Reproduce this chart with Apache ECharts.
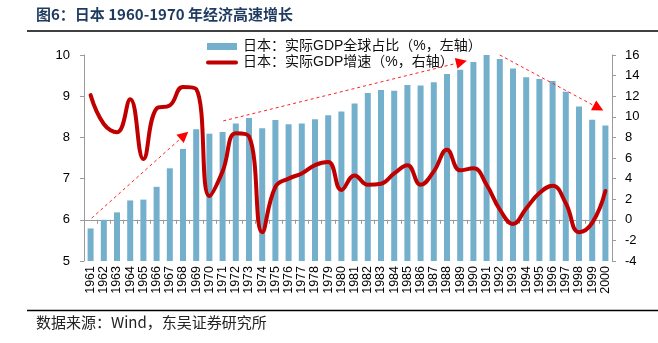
<!DOCTYPE html>
<html>
<head>
<meta charset="utf-8">
<script src="https://cdn.jsdelivr.net/npm/echarts@6/dist/echarts.min.js"></script>
<style>
  html, body { margin: 0; padding: 0; background: #fff; }
  #chart { width: 658px; height: 343px; }
</style>
</head>
<body>
<div id="chart"></div>
<script>
// Years on the category axis
const years = [
  '1961','1962','1963','1964','1965','1966','1967','1968','1969','1970',
  '1971','1972','1973','1974','1975','1976','1977','1978','1979','1980',
  '1981','1982','1983','1984','1985','1986','1987','1988','1989','1990',
  '1991','1992','1993','1994','1995','1996','1997','1998','1999','2000'
];

// Japan's share of world real GDP (%, left axis)
const gdpShare = [
  5.79, 6.00, 6.18, 6.47, 6.49, 6.80, 7.25, 7.72, 8.20, 8.09,
  8.13, 8.34, 8.47, 8.22, 8.42, 8.32, 8.34, 8.44, 8.54, 8.63,
  8.82, 9.08, 9.15, 9.13, 9.27, 9.26, 9.34, 9.54, 9.64, 9.83,
  10.00, 9.90, 9.67, 9.46, 9.42, 9.37, 9.11, 8.75, 8.43, 8.29
];

// Japan's real GDP growth (%, right axis)
const gdpGrowth = [
  12.1, 9.3, 8.5, 11.7, 5.9, 10.8, 11.1, 12.9, 12.7, 2.3,
  4.7, 8.4, 8.1, -1.2, 3.2, 4.0, 4.5, 5.3, 5.6, 2.9,
  4.3, 3.4, 3.5, 4.5, 5.3, 3.4, 4.7, 6.8, 4.8, 5.0,
  3.4, 1.0, -0.4, 1.1, 2.6, 3.3, 1.6, -1.2, -0.3, 2.8
];

// Tick settings for the two value axes
const leftTicks = { min: 5, max: 10, interval: 1 };
const rightTicks = { min: -4, max: 16, interval: 2 };

const seriesNames = ['日本：实际GDP全球占比（%，左轴）', '日本：实际GDP增速（%，右轴）'];

// Trend arrows: [categoryIndex, left-axis value] for start and tip
const trendArrows = [
  [[0.08, 6.04], [7.4, 8.14]],
  [[10.05, 8.40], [28.5, 9.86]],
  [[31.0, 10.0], [38.84, 8.65]]
];

const barColor = '#74b0cc';
const lineColor = '#c00000';
const baseFont = '"Liberation Sans", "Noto Sans CJK SC", sans-serif';

const chart = echarts.init(document.getElementById('chart'), null, { renderer: 'canvas' });

const option = {
  backgroundColor: '#fff',
  animation: false,
  grid: { left: 84, right: 46, top: 55, bottom: 82, containLabel: false },
  xAxis: {
    type: 'category',
    data: years,
    axisLine: { lineStyle: { color: '#9a9a9a', width: 1 } },
    axisTick: { show: true, length: 4, alignWithLabel: false, lineStyle: { color: '#9a9a9a' } },
    axisLabel: {
      rotate: 90, interval: 0, margin: 5,
      fontFamily: baseFont, fontSize: 12.5, color: '#000'
    },
    splitLine: { show: false }
  },
  yAxis: [
    {
      type: 'value',
      min: leftTicks.min, max: leftTicks.max, interval: leftTicks.interval,
      axisLine: { show: true, lineStyle: { color: '#9a9a9a' } },
      axisTick: { show: true, length: 4, lineStyle: { color: '#9a9a9a' } },
      axisLabel: { fontFamily: baseFont, fontSize: 13, color: '#000', margin: 14 },
      splitLine: { show: false }
    },
    {
      type: 'value',
      min: rightTicks.min, max: rightTicks.max, interval: rightTicks.interval,
      axisLine: { show: true, lineStyle: { color: '#9a9a9a' } },
      axisTick: { show: true, length: 4, lineStyle: { color: '#9a9a9a' } },
      axisLabel: { fontFamily: baseFont, fontSize: 13, color: '#000', margin: 13 },
      splitLine: { show: false }
    }
  ],
  series: [
    {
      name: seriesNames[0],
      type: 'bar',
      yAxisIndex: 0,
      data: gdpShare,
      barWidth: 6,
      itemStyle: { color: barColor },
      z: 2
    },
    {
      name: seriesNames[1],
      type: 'line',
      yAxisIndex: 1,
      data: gdpGrowth,
      smooth: 0.45,
      symbol: 'none',
      showSymbol: false,
      lineStyle: { color: lineColor, width: 4, cap: 'round', join: 'round' },
      itemStyle: { color: lineColor },
      z: 3
    }
  ]
};

chart.setOption(option);

// Pixel position for a (possibly fractional) category index on the left axis
function toPixel(idx, val) {
  const lo = Math.floor(idx);
  const a = chart.convertToPixel({ xAxisIndex: 0, yAxisIndex: 0 }, [lo, val]);
  const b = chart.convertToPixel({ xAxisIndex: 0, yAxisIndex: 0 }, [lo + 1, val]);
  return [a[0] + (b[0] - a[0]) * (idx - lo), a[1]];
}

const graphics = [];

// Header text and rules
graphics.push({
  type: 'text', left: 36, top: 7, z: 10,
  style: {
    text: '图6：日本 1960-1970 年经济高速增长',
    fontFamily: '"Noto Sans CJK SC", sans-serif', fontSize: 15, fontWeight: 'bold',
    fill: '#1f3a5f'
  }
});
graphics.push({
  type: 'line', z: 10,
  shape: { x1: 27, y1: 31, x2: 658, y2: 31 },
  style: { stroke: '#000', lineWidth: 1.5 }
});
graphics.push({
  type: 'line', z: 10,
  shape: { x1: 27, y1: 310.5, x2: 658, y2: 310.5 },
  style: { stroke: '#000', lineWidth: 1.5 }
});
graphics.push({
  type: 'text', left: 36, top: 315, z: 10,
  style: {
    text: '数据来源：Wind，东吴证券研究所',
    fontFamily: '"Noto Sans CJK SC", sans-serif', fontSize: 15,
    fill: '#222'
  }
});

// Legend: bar swatch and line swatch with their series names
const legendRows = [
  { y: 46.5, kind: 'bar', text: seriesNames[0] },
  { y: 62.5, kind: 'line', text: seriesNames[1] }
];
legendRows.forEach(function (row) {
  if (row.kind === 'bar') {
    graphics.push({
      type: 'rect', z: 15,
      shape: { x: 207, y: row.y - 3.5, width: 30, height: 7 },
      style: { fill: barColor }
    });
  } else {
    graphics.push({
      type: 'line', z: 15,
      shape: { x1: 208, y1: row.y, x2: 236, y2: row.y },
      style: { stroke: lineColor, lineWidth: 4, lineCap: 'round' }
    });
  }
  graphics.push({
    type: 'text', z: 15, x: 243, y: row.y,
    style: {
      text: row.text, fontFamily: baseFont, fontSize: 14,
      fill: '#111', verticalAlign: 'middle', align: 'left'
    }
  });
});

// Dashed trend arrows with filled heads
const headLen = 11, headHalf = 5.5;
trendArrows.forEach(function (arr) {
  const p0 = toPixel(arr[0][0], arr[0][1]);
  const p1 = toPixel(arr[1][0], arr[1][1]);
  const dx = p1[0] - p0[0], dy = p1[1] - p0[1];
  const len = Math.sqrt(dx * dx + dy * dy);
  const ux = dx / len, uy = dy / len;
  const bx = p1[0] - ux * headLen, by = p1[1] - uy * headLen;
  graphics.push({
    type: 'line', z: 20,
    shape: { x1: p0[0], y1: p0[1], x2: bx, y2: by },
    style: { stroke: '#ff2020', lineWidth: 1, lineDash: [3, 3] }
  });
  graphics.push({
    type: 'polygon', z: 20,
    shape: {
      points: [
        [p1[0], p1[1]],
        [bx - uy * headHalf, by + ux * headHalf],
        [bx + uy * headHalf, by - ux * headHalf]
      ]
    },
    style: { fill: '#ff0000' }
  });
});

chart.setOption({ graphic: graphics });
</script>
</body>
</html>
